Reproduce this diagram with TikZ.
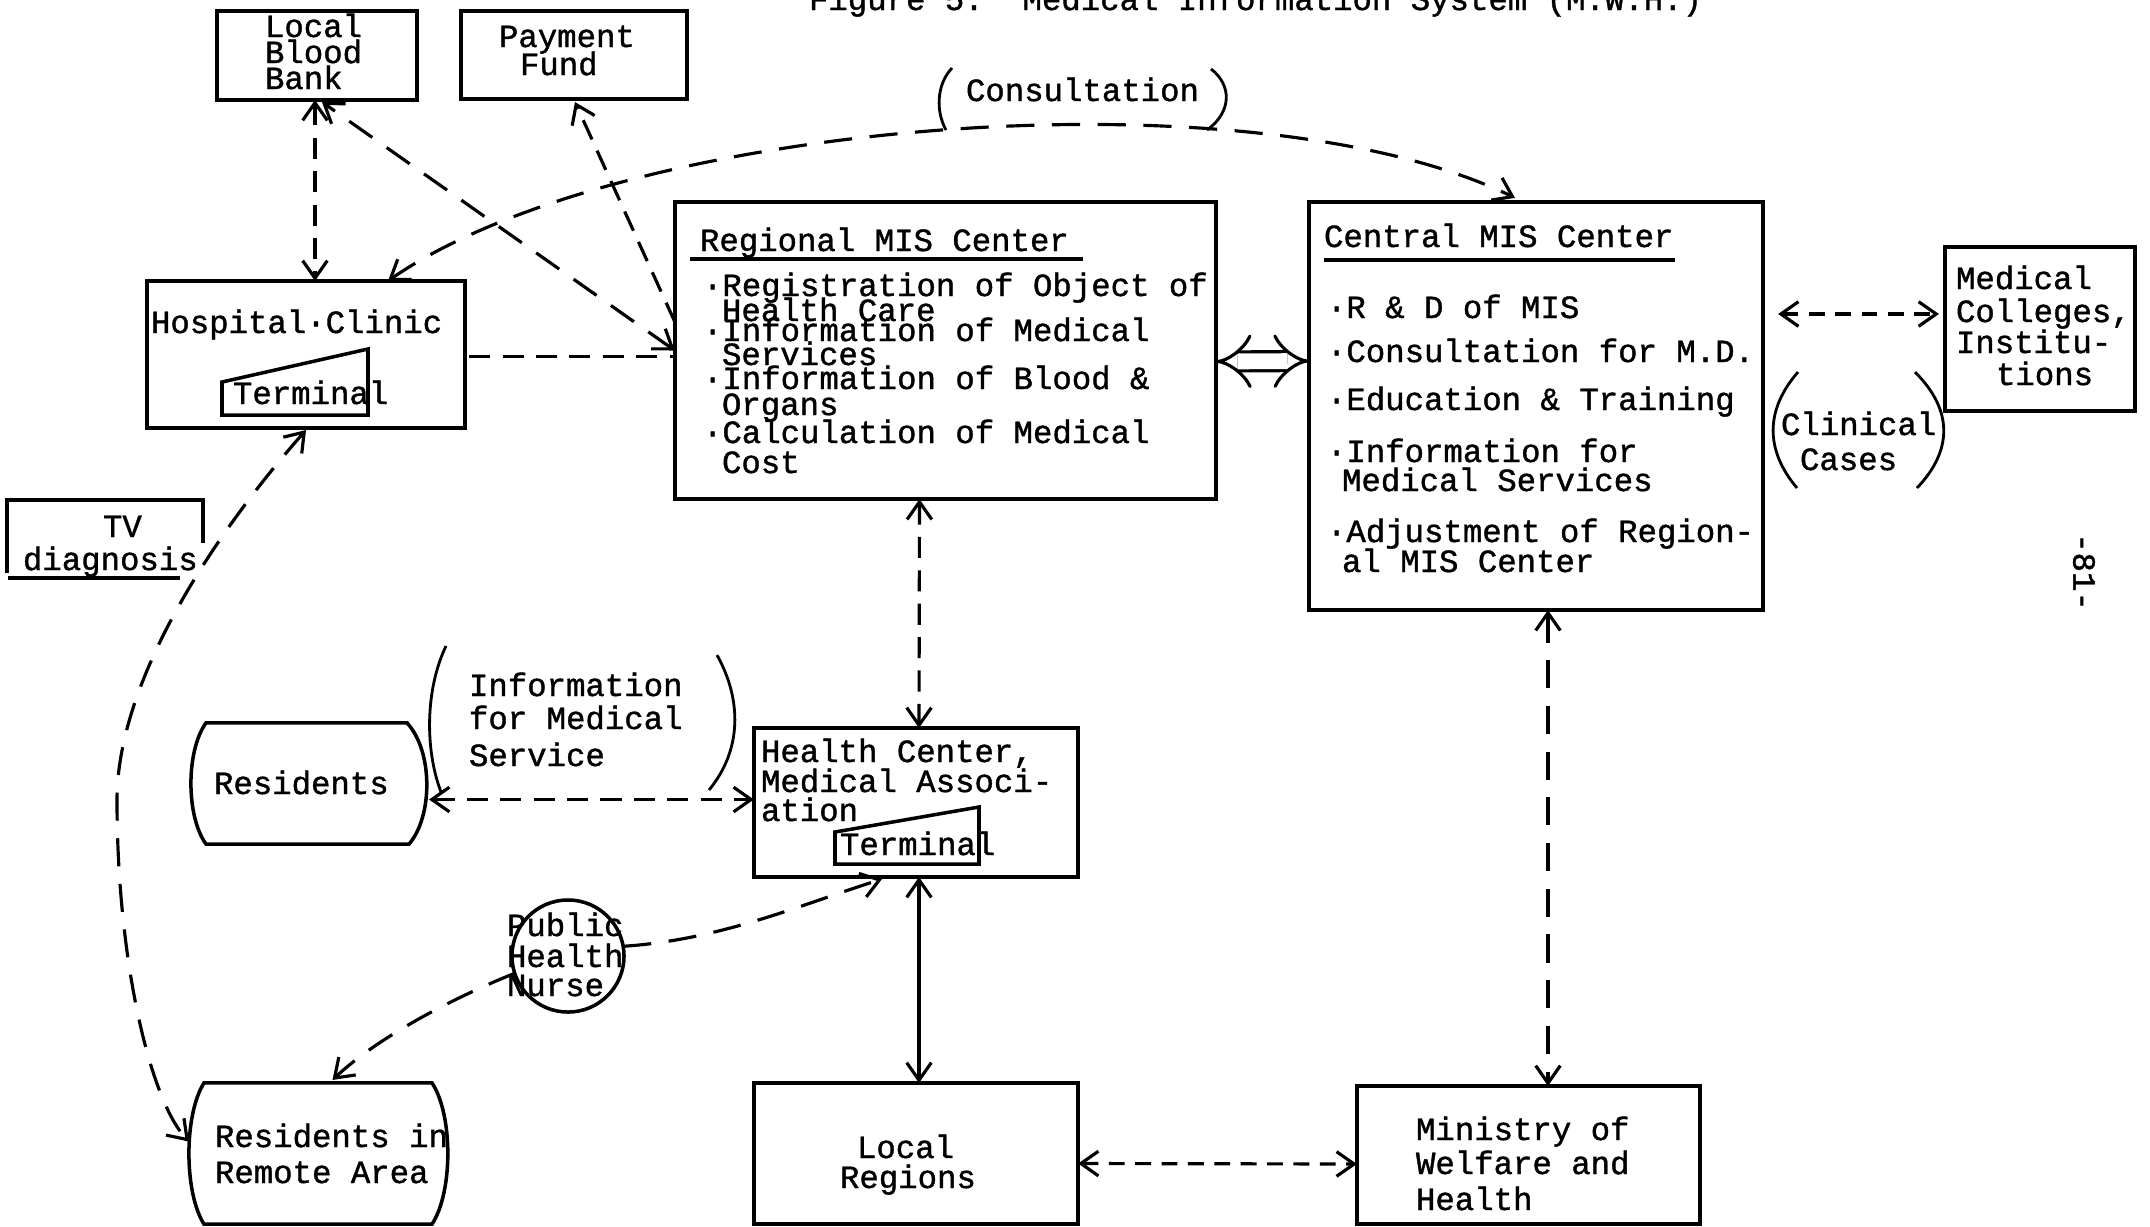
\documentclass[tikz,border=0pt]{standalone}
\usepackage{fontspec}
\newfontfamily\tw[FakeBold=1.2]{Liberation Mono}
\usetikzlibrary{arrows.meta,calc}
\begin{document}
\frenchspacing
\begin{tikzpicture}[x=0.01cm,y=-0.01cm,
  txt/.style={font=\tw\fontsize{9.2}{11}\selectfont, inner sep=0pt, outer sep=0pt, anchor=base west},
  boxline/.style={line width=1pt},
  box/.style={draw, boxline, rectangle, inner sep=0pt, outer sep=0pt},
  shapeonly/.style={rectangle, inner sep=0pt, outer sep=0pt},
  conn/.style={line width=0.9pt},
  paren/.style={line width=0.8pt},
  dA/.style={conn, dash pattern=on 8pt off 5pt},
  dB/.style={conn, dash pattern=on 6pt off 3.5pt},
  dC/.style={conn, dash pattern=on 4.5pt off 3pt},
  >={Straight Barb[length=5pt,width=7pt]},
]
\useasboundingbox (0,0) rectangle (2150,1226);

% ---------- boxes ----------
\node[box, minimum width=2.00cm, minimum height=0.89cm] (bank) at (317,55.5) {};
\node[box, minimum width=2.26cm, minimum height=0.88cm] (pay) at (574,55) {};
\node[box, minimum width=5.41cm, minimum height=2.97cm] (rmis) at (945.5,350.5) {};
\node[box, minimum width=4.54cm, minimum height=4.08cm] (cmis) at (1536,406) {};
\node[box, minimum width=1.90cm, minimum height=1.64cm] (mc) at (2040,329) {};
\node[box, minimum width=3.18cm, minimum height=1.47cm] (hc) at (306,354.5) {};
\node[shapeonly, minimum width=1.96cm, minimum height=0.78cm] (tv) at (105,539) {};
\node[shapeonly, minimum width=2.38cm, minimum height=1.21cm] (res) at (310,783.5) {};
\node[shapeonly, minimum width=2.59cm, minimum height=1.41cm] (rra) at (318.5,1153.5) {};
\node[box, minimum width=3.24cm, minimum height=1.49cm] (hcma) at (916,802.5) {};
\node[box, minimum width=3.24cm, minimum height=1.41cm] (lr) at (916,1153.5) {};
\node[box, minimum width=3.43cm, minimum height=1.38cm] (mow) at (1528.5,1155) {};
\node[draw, boxline, circle, minimum size=1.12cm, inner sep=0pt, outer sep=0pt] (phn) at (568,956) {};

% barrel shapes
\draw[boxline] ($(res.north west)+(15,0)$) -- ($(res.north east)+(-22,0)$)
  .. controls ($(res.north east)+(4,28)$) and ($(res.south east)+(4,-28)$) .. ($(res.south east)+(-20,0)$)
  -- ($(res.south west)+(15,0)$)
  .. controls ($(res.south west)+(-5,-28)$) and ($(res.north west)+(-5,28)$) .. cycle;
\draw[boxline] ($(rra.north west)+(15,0)$) -- ($(rra.north east)+(-16,0)$)
  .. controls ($(rra.north east)+(5,32)$) and ($(rra.south east)+(5,-32)$) .. ($(rra.south east)+(-16,0)$)
  -- ($(rra.south west)+(15,0)$)
  .. controls ($(rra.south west)+(-5,-32)$) and ($(rra.north west)+(-5,32)$) .. cycle;

% TV diagnosis open box
\draw[boxline] ($(tv.south west)+(0,-5)$) -- (tv.north west) -- (tv.north east) -- ($(tv.north east)+(0,43)$);
\draw[boxline] ($(tv.south west)+(1,0)$) -- ($(tv.south east)+(-23,0)$);

% terminals
\draw[boxline] (222,415) -- (222,382) -- (368,349) -- (368,415) -- cycle;
\draw[boxline] (835,864) -- (835,832) -- (979,807) -- (979,864) -- cycle;

% underlines
\draw[conn] (690,259) -- (1083,259);
\draw[conn] (1324,260) -- (1675,260);

% parentheses
\draw[paren] (446,646) .. controls (425,690) and (425,750) .. (441,792);
\draw[paren] (717,655) .. controls (742,700) and (742,750) .. (709,790);
\draw[paren] (952,68) .. controls (936,85) and (936,112) .. (946,130);
\draw[paren] (1211,69) .. controls (1232,85) and (1232,112) .. (1207,130);
\draw[paren] (1798,372) .. controls (1765,410) and (1765,450) .. (1797,488);
\draw[paren] (1915,372) .. controls (1953,410) and (1953,450) .. (1917,488);

% ---------- texts ----------
\node[txt] (title) at (809,10) {Figure 5.~~Medical Information System (M.W.H.)};
\node[txt] (bank1) at (265,37) {Local};
\node[txt] (bank2) at (265,63) {Blood};
\node[txt] (bank3) at (265,89) {Bank};
\node[txt] (pay1) at (499,47) {Payment};
\node[txt] (pay2) at (520,75) {Fund};
\node[txt] (cons) at (966,101) {Consultation};
\node[txt] (hct) at (151,333) {Hospital·Clinic};
\node[txt] (hcterm) at (233,404) {Terminal};
\node[txt] (rt) at (700,251) {Regional MIS Center};
\node[txt] (r1) at (703,296) {·Registration of Object of};
\node[txt] (r2) at (722,321) {Health Care};
\node[txt] (r3) at (703,341) {·Information of Medical};
\node[txt] (r4) at (722,365) {Services};
\node[txt] (r5) at (703,389) {·Information of Blood \&};
\node[txt] (r6) at (722,415) {Organs};
\node[txt] (r7) at (703,443) {·Calculation of Medical};
\node[txt] (r8) at (722,473) {Cost};
\node[txt] (ct) at (1324,247) {Central MIS Center};
\node[txt] (c1) at (1327,318) {·R \& D of MIS};
\node[txt] (c2) at (1327,362) {·Consultation for M.D.};
\node[txt] (c3) at (1327,410) {·Education \& Training};
\node[txt] (c4) at (1327,462) {·Information for};
\node[txt] (c4b) at (1342,491) {Medical Services};
\node[txt] (c5) at (1327,542) {·Adjustment of Region-};
\node[txt] (c5b) at (1342,572) {al MIS Center};
\node[txt] (mc1) at (1956,289) {Medical};
\node[txt] (mc2) at (1956,322) {Colleges,};
\node[txt] (mc3) at (1956,353) {Institu-};
\node[txt] (mc4) at (1996,385) {tions};
\node[txt] (cc1) at (1781,435) {Clinical};
\node[txt] (cc2) at (1800,470) {Cases};
\node[txt] (tv1) at (103,537) {TV};
\node[txt] (tv2) at (23,570) {diagnosis};
\node[txt] (ims1) at (469,696) {Information};
\node[txt] (ims2) at (469,729) {for Medical};
\node[txt] (ims3) at (469,766) {Service};
\node[txt] (rest) at (214,794) {Residents};
\node[txt] (hm1) at (761,762) {Health Center,};
\node[txt] (hm2) at (761,792) {Medical Associ-};
\node[txt] (hm3) at (761,821) {ation};
\node[txt] (hmterm) at (840,855) {Terminal};
\node[txt] (pn1) at (507,936) {Public};
\node[txt] (pn2) at (507,967) {Health};
\node[txt] (pn3) at (507,996) {Nurse};
\node[txt] (rr1) at (215,1147) {Residents in};
\node[txt] (rr2) at (215,1183) {Remote Area};
\node[txt] (lr1) at (857,1158) {Local};
\node[txt] (lr2) at (840,1188) {Regions};
\node[txt] (mw1) at (1416,1140) {Ministry of};
\node[txt] (mw2) at (1416,1174) {Welfare and};
\node[txt] (mw3) at (1416,1210) {Health};
\node[txt, anchor=center, rotate=-90] (pg) at (2084,572) {-81-};

% ---------- connectors ----------
\coordinate (bendL) at (117,800);
\draw[dB,<->] ($(bank.south)+(-2,0)$) -- ($(bank.south |- hc.north)+(-2,0)$);
\draw[dA,<->] (rmis.west) -- ($(bank.south)+(5,2)$);
\draw[dB,->] ($(rmis.north west)+(0,120)$) -- ($(pay.south)+(1,3)$);
\draw[dB] ($(hc.east)+(4,2)$) -- ($(rmis.west)+(0,6)$);
\draw[dA,<->] ($(hc.north)+(82,0)$) .. controls (620,120) and (1250,69) .. ($(cmis.north)+(-21,-4)$);
\draw[dA,<->] ($(hc.south)+(0,2)$) .. controls (215,533) and (117,680) .. (bendL)
  .. controls (117,960) and (150,1100) .. ($(rra.west)+(0,-12)$);
\draw[dB,<->] ($(res.east)+(0,16)$) -- ($(hcma.west)+(0,-3)$);
\draw[dB,<->] ($(rmis.south)+(-26,0)$) -- ($(hcma.north)+(3,0)$);
\draw[conn,<->] ($(hcma.south)+(3,0)$) -- ($(lr.north)+(3,0)$);
\draw[dC,<->] ($(lr.east)+(0,10)$) -- ($(mow.west)+(0,9)$);
\draw[dA,<->] ($(cmis.south)+(12,0)$) -- ($(mow.north)+(19.5,0)$);
\draw[dC,<->] ($(cmis.east)+(15,-92)$) -- ($(mc.west)+(-6,-15)$);
\draw[conn,double,double distance=4.5pt,{Implies[length=5pt]}-{Implies[length=5pt]}]
  ($(rmis.east)+(0,11)$) -- ($(cmis.west)+(0,-45)$);
\draw[dA,->] (phn.10) .. controls (720,940) and (800,905) .. ($(hcma.south)+(-34,2)$);
\draw[dA,->] (phn.198) .. controls (460,995) and (380,1035) .. ($(rra.north)+(14,-3)$);
\end{tikzpicture}
\end{document}
